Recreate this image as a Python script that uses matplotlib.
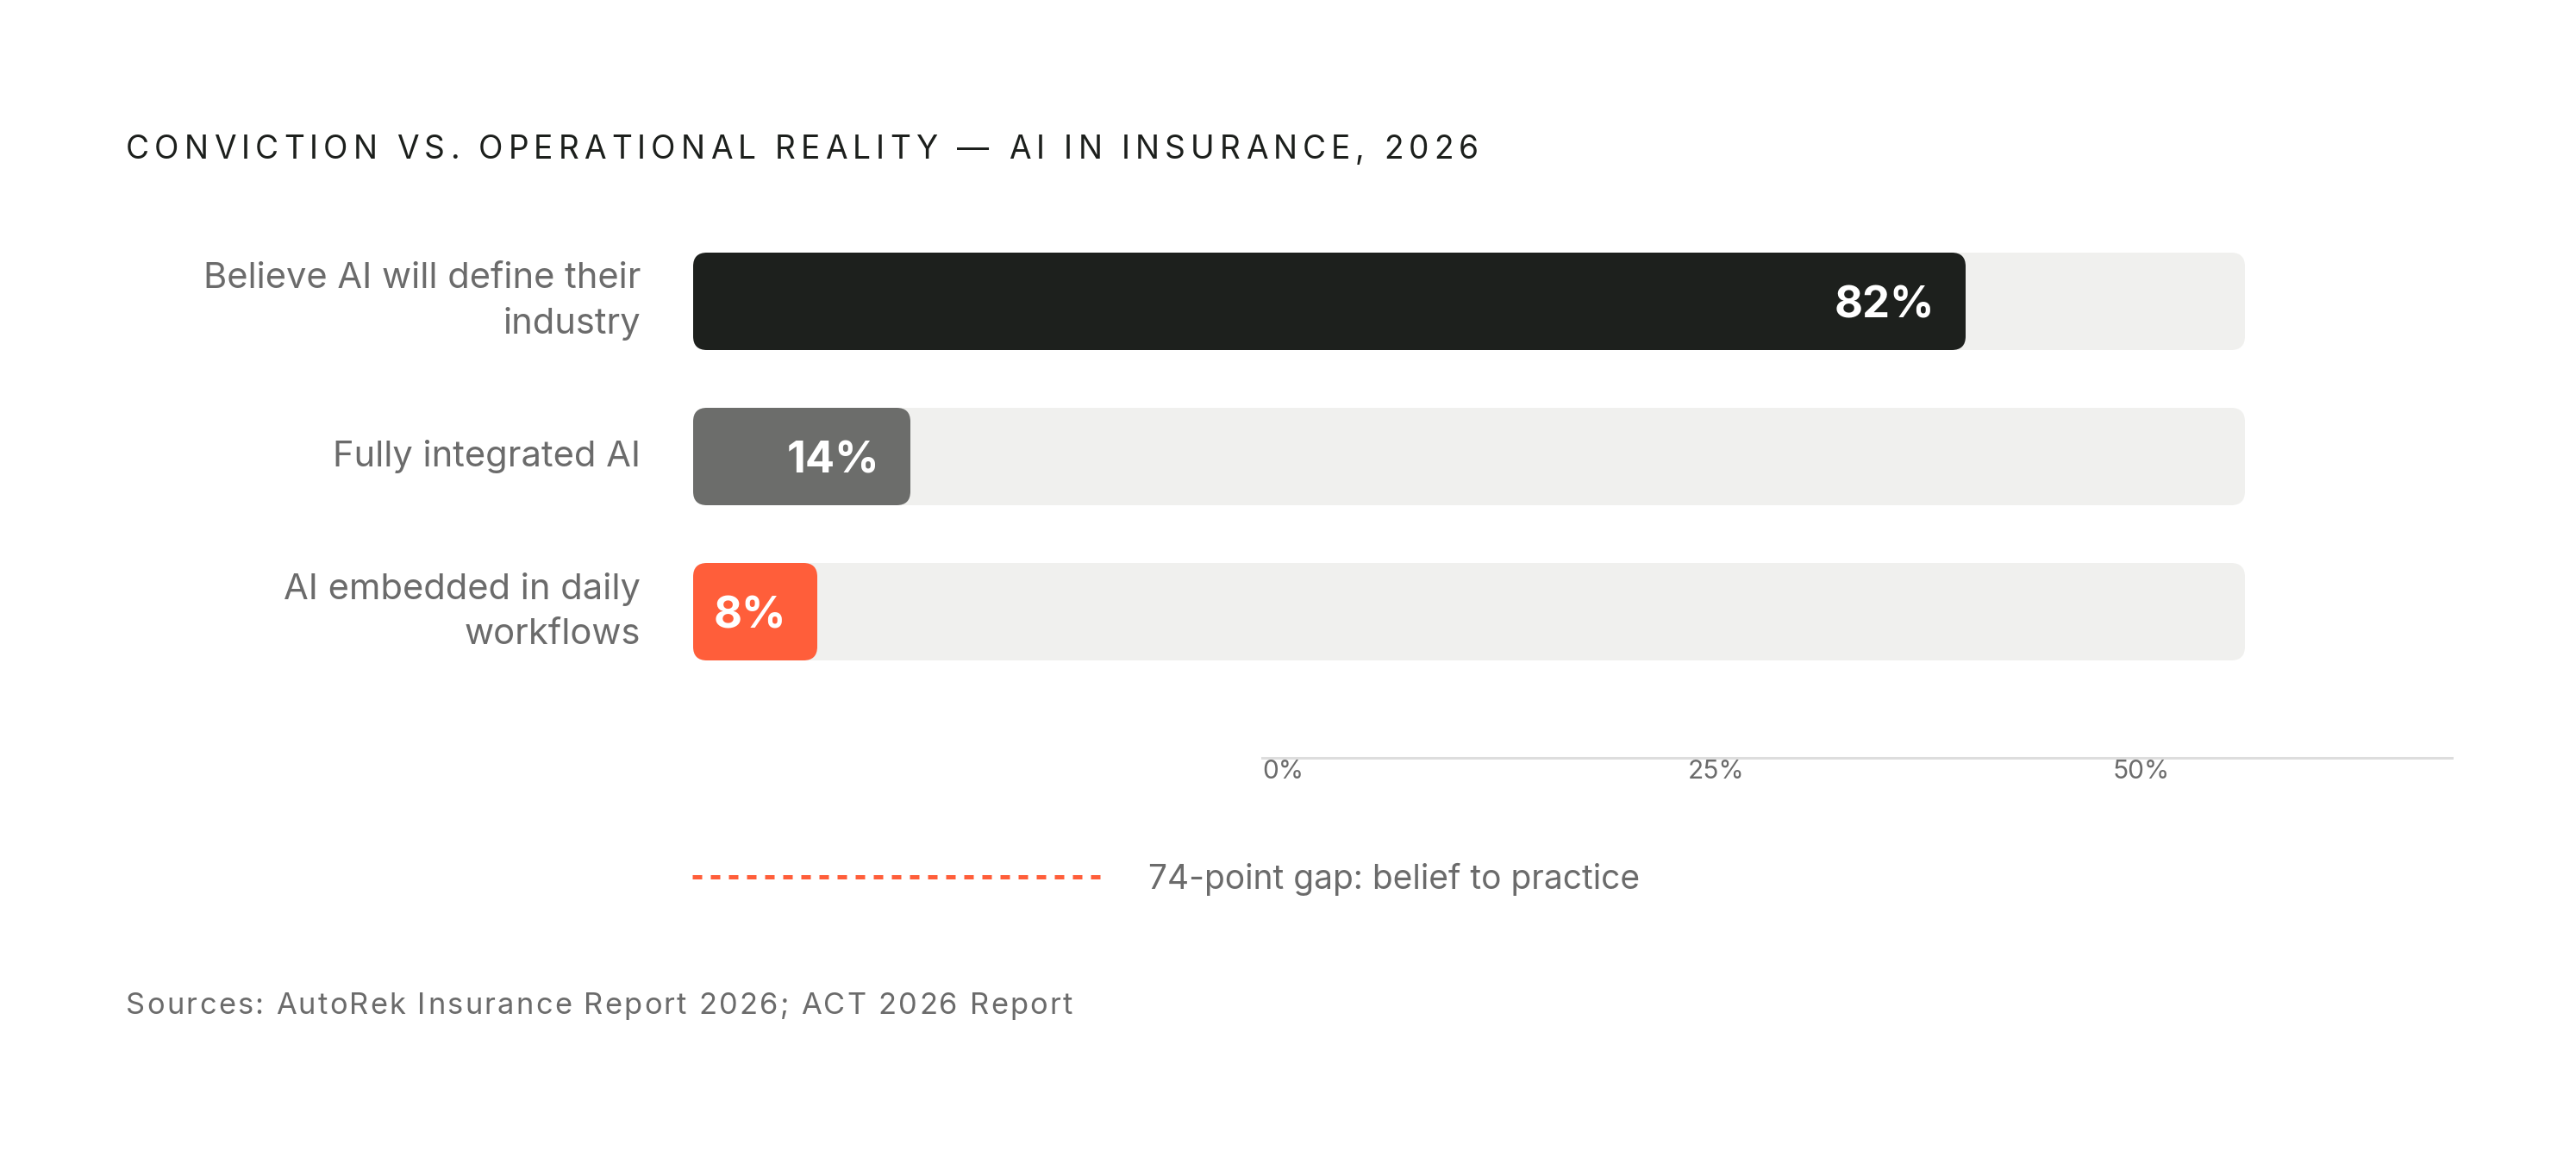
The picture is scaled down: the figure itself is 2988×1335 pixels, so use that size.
import matplotlib
matplotlib.use("Agg")
import matplotlib.pyplot as plt
from matplotlib.patches import FancyBboxPatch
from matplotlib.lines import Line2D

# Data
categories = ["Believe AI will define their\nindustry", "Fully integrated AI", "AI embedded in daily\nworkflows"]
values = [82, 14, 8]
bar_colors = ["#1d201d", "#6c6d6b", "#ff5e3a"]
axis_ticks = [0, 25, 50]
axis_labels = ["0%", "25%", "50%"]
title = "CONVICTION VS. OPERATIONAL REALITY \u2014 AI IN INSURANCE, 2026"
gap_label = "74-point gap: belief to practice"
source = "Sources: AutoRek Insurance Report 2026; ACT 2026 Report"

W, H, DPI = 2988, 1335, 100
GRAY = "#6b6b6b"
TRACK = "#f0f0ee"
ORANGE = "#ff5e3a"

plt.rcParams["font.family"] = ["Inter", "DejaVu Sans"]
fig = plt.figure(figsize=(W / DPI, H / DPI), dpi=DPI)
fig.patch.set_facecolor("white")

# main bar axes (pixel layout of the reference)
ax_left, ax_top, ax_w, ax_h = 804, 259.5, 1800, 540
ax = fig.add_axes([ax_left / W, 1 - (ax_top + ax_h) / H, ax_w / W, ax_h / H])
ax.set_xlim(0, 100)
ax.set_ylim(2.5, -0.5)
ax.axis("off")

px_x = ax_w / 100.0
px_y = ax_h / 3.0
aspect = px_x / px_y
bar_h = 113 / px_y
radius = 16 / px_x

for i, (cat, v, c) in enumerate(zip(categories, values, bar_colors)):
    ax.add_patch(FancyBboxPatch((0, i - bar_h / 2), 100, bar_h,
                                boxstyle=f"round,pad=0,rounding_size={radius}",
                                mutation_aspect=aspect, fc=TRACK, ec="none"))
    ax.add_patch(FancyBboxPatch((0, i - bar_h / 2), v, bar_h,
                                boxstyle=f"round,pad=0,rounding_size={radius}",
                                mutation_aspect=aspect, fc=c, ec="none"))
    ax.text(v - 36 / px_x, i + 19 / px_y, f"{v}%", ha="right", va="baseline",
            color="white", fontsize=36.5, fontweight="bold")
    ax.text(-61 / px_x, i, cat, ha="right", va="center", fontsize=30,
            color=GRAY, linespacing=1.45)

# detached percentage axis
ax2 = fig.add_axes([1464 / W, 1 - 878.5 / H, 1380 / W, 0.0001])
ax2.set_xlim(0, 1380 / 19.74)
ax2.set_yticks([])
ax2.set_xticks(axis_ticks)
ax2.set_xticklabels(axis_labels)
for side in ["top", "left", "right"]:
    ax2.spines[side].set_visible(False)
ax2.spines["bottom"].set_color("#dddddd")
ax2.spines["bottom"].set_linewidth(2.2)
ax2.tick_params(axis="x", length=0, pad=1.5, labelsize=21.5, labelcolor=GRAY)
for lbl in ax2.get_xticklabels():
    lbl.set_ha("left")
ax2.patch.set_visible(False)

# legend for the gap
gap_handle = Line2D([], [], color=ORANGE, lw=3.6, linestyle=(0, (2.2, 2.0)))
fig.legend(handles=[gap_handle], labels=[gap_label], loc="center left",
           bbox_to_anchor=(803 / W, 1 - 1020 / H), frameon=False,
           handlelength=474 / 38.9, handletextpad=55 / 38.9,
           borderpad=0, borderaxespad=0, prop={"size": 28}, labelcolor=GRAY)

# letter-spaced texts
renderer = fig.canvas.get_renderer()


def text_width(s, **kw):
    t = fig.text(0, 0, s, **kw)
    w = t.get_window_extent(renderer).width
    t.remove()
    return w


def tracked(x0, x1, y, s, **kw):
    ref = text_width("H", **kw)
    offsets = [text_width(s[:k] + "H", **kw) - ref for k in range(len(s))]
    full = text_width(s, **kw)
    track = (x1 - x0 - full) / (len(s) - 1)
    for k, ch in enumerate(s):
        if ch == " ":
            continue
        fig.text((x0 + offsets[k] + k * track) / W, 1 - y / H, ch,
                 ha="left", va="baseline", **kw)


tracked(146, 1715, 184, title, fontsize=26.7, color="#1c1f1c")
tracked(146, 1244, 1176, source, fontsize=24.8, color=GRAY)

fig.savefig("out.png", dpi=DPI, facecolor="white")
